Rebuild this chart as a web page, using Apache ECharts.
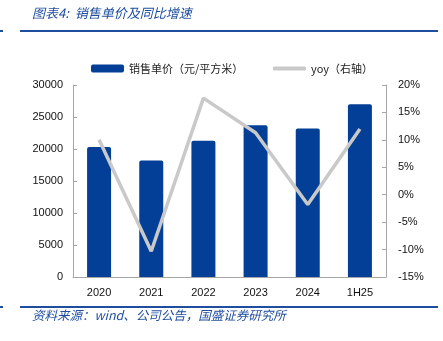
<!DOCTYPE html>
<html><head><meta charset="utf-8">
<script src="https://cdn.jsdelivr.net/npm/echarts@6/dist/echarts.min.js"></script>
<style>html,body{margin:0;padding:0;background:#fff}#c{width:443px;height:341px}</style>
</head><body><div id="c"></div>
<script>
const categories = ['2020','2021','2022','2023','2024','1H25'];
const priceValues = [20300, 18200, 21300, 23700, 23200, 27000];
const yoyValues = [10.0, -10.3, 17.6, 11.3, -1.8, 12.0];
const leftTicks = [0, 5000, 10000, 15000, 20000, 25000, 30000];
const rightTicks = [-15, -10, -5, 0, 5, 10, 15, 20];

const chart = echarts.init(document.getElementById('c'));
const axisCol = '#a6a6a6';
const labelFont = 'Liberation Sans';
chart.setOption({
  animation: false,
  textStyle: {fontFamily: labelFont},
  grid: {left: 73, right: 57, top: 85, bottom: 64},
  legend: [
    {top: 58, left: 86, itemWidth: 33, itemHeight: 8, itemGap: 5,
     textStyle: {fontFamily: 'Noto Sans CJK SC', fontSize: 11, color: '#222'},
     data: [{name: '销售单价（元/平方米）', icon: 'roundRect'}]},
    {top: 58, left: 268, itemWidth: 33, itemHeight: 4,
     textStyle: {fontFamily: 'Noto Sans CJK SC', fontSize: 11, color: '#222'},
     data: [{name: 'yoy（右轴）', icon: 'roundRect'}]}
  ],
  graphic: [
    {type: 'text', left: 32, top: 7, style: {text: '图表4:  销售单价及同比增速', fontFamily: 'Noto Sans CJK SC', fontStyle: 'italic', fontSize: 13, fill: '#1f4e9e'}},
    {type: 'rect', shape: {x: 20, y: 30, width: 418, height: 2}, style: {fill: '#1f4e9e'}},
    {type: 'rect', shape: {x: 0, y: 30, width: 3, height: 2}, style: {fill: '#1f4e9e'}},
    {type: 'rect', shape: {x: 20, y: 306, width: 418, height: 2}, style: {fill: '#1f4e9e'}},
    {type: 'rect', shape: {x: 0, y: 306, width: 3, height: 2}, style: {fill: '#1f4e9e'}},
    {type: 'text', left: 32, top: 309, style: {text: '资料来源：wind、公司公告，国盛证券研究所', fontFamily: 'Noto Sans CJK SC', fontStyle: 'italic', fontSize: 12.5, fill: '#1f4e9e'}}
  ],
  xAxis: {
    type: 'category', data: categories,
    axisLine: {lineStyle: {color: axisCol}},
    axisTick: {inside: true, length: 4, lineStyle: {color: axisCol}},
    axisLabel: {color: '#111', fontSize: 11, margin: 10}
  },
  yAxis: [
    {type: 'value', min: 0, max: 30000, interval: 5000,
     axisLine: {show: true, lineStyle: {color: axisCol}},
     axisTick: {show: true, inside: true, length: 4, lineStyle: {color: axisCol}},
     splitLine: {show: false},
     axisLabel: {color: '#111', fontSize: 11, margin: 10, formatter: v => String(v)}},
    {type: 'value', min: -15, max: 20, interval: 5,
     axisLine: {show: true, lineStyle: {color: axisCol}},
     axisTick: {show: true, inside: true, length: 4, lineStyle: {color: axisCol}},
     splitLine: {show: false},
     axisLabel: {color: '#111', fontSize: 11, margin: 12, formatter: v => v + '%'}}
  ],
  series: [
    {name: '销售单价（元/平方米）', type: 'bar', data: priceValues, barWidth: '46%',
     itemStyle: {color: '#033f97', borderRadius: [2,2,0,0]}},
    {name: 'yoy（右轴）', type: 'line', yAxisIndex: 1, data: yoyValues,
     symbol: 'none', lineStyle: {color: '#c9c9c9', width: 3.5}, itemStyle: {color: '#c9c9c9'}}
  ]
});
</script></body></html>
